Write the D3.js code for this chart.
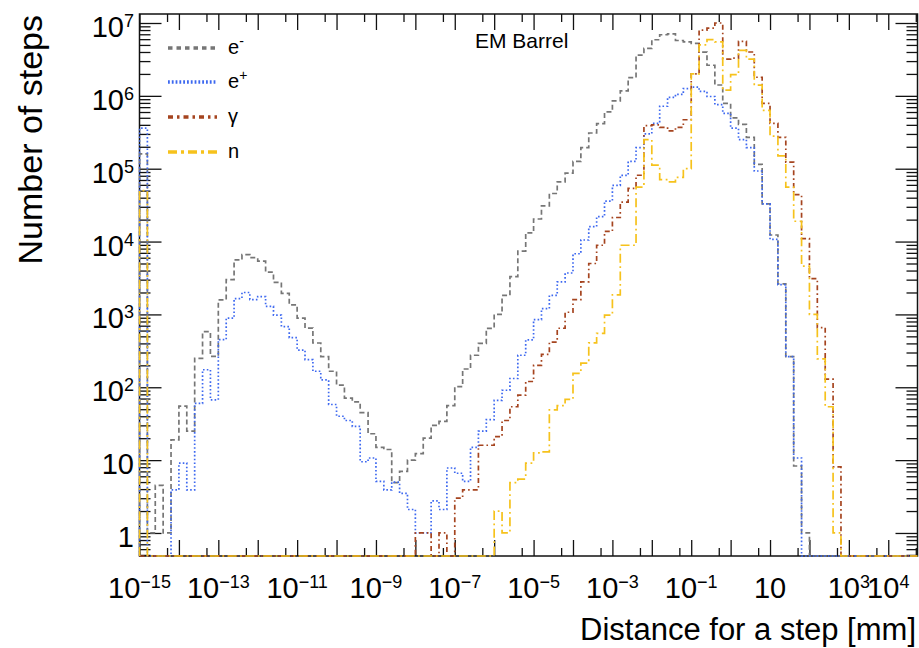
<!DOCTYPE html>
<html>
<head>
<meta charset="utf-8">
<script src="https://cdn.jsdelivr.net/npm/d3@7"></script>
<style>
  body { margin: 0; background: #fff; }
  svg { display: block; font-family: "Liberation Sans", Arial, Helvetica, sans-serif; }
</style>
</head>
<body>
<div id="chart"></div>
<script>
/* CONSTANTS AND GLOBALS */
const width = 919,
  height = 648,
  frame = { left: 139.5, right: 917.5, top: 14, bottom: 556 };

// bins: 0.2 decade wide, starting at 1e-15 mm
const binStartLog = -15,
  binWidthLog = 0.2;

/* DATA (one value per bin) */
const electronCounts = [
  1.6e5, 1, 4.5, 1, 19, 55, 25, 250, 580, 265,
  1580, 3000, 5600, 6600, 6000, 5400, 3800, 2750, 1950, 1350,
  890, 650, 405, 264, 166, 107, 71, 63, 45, 23,
  15, 14, 4.9, 7, 10, 12.3, 20, 30, 34, 56,
  102, 178, 275, 400, 645, 1000, 1820, 3310, 7410, 13200,
  20400, 30900, 45700, 66100, 87100, 126000, 195000, 309000, 417000, 603000,
  851000, 1.17e6, 1.78e6, 3.63e6, 4.47e6, 5.89e6, 6.9e6, 7.1e6, 5.75e6, 5.5e6,
  5.25e6, 3.98e6, 2.63e6, 1.41e6, 7.9e5, 5e5, 4.07e5, 2.7e5, 1.15e5, 3.3e4,
  1.23e4, 2630, 263, 8.3, 1, 0, 0, 0, 0
];

const positronCounts = [
  3.6e5, 0, 0, 0, 3.9, 9.1, 3.9, 60, 174, 67,
  450, 890, 1650, 2000, 1600, 1760, 1290, 980, 680, 480,
  324, 240, 166, 126, 58, 40, 35, 29, 9.5, 10.7,
  5.1, 3.9, 5, 3.5, 2.1, 1, 1, 2.75, 2.1, 7.8,
  6.6, 5.1, 15, 25, 36, 66, 91, 132, 275, 447,
  850, 1200, 1820, 2800, 3700, 6800, 10500, 16000, 22000, 36000,
  59000, 81000, 126000, 195000, 300000, 420000, 720000, 955000, 1.05e6, 1.26e6,
  1.32e6, 1.15e6, 9.8e5, 7.6e5, 5.75e5, 3.6e5, 2.5e5, 1.95e5, 9.3e4, 3.3e4,
  1.07e4, 2570, 263, 10.7, 0, 0, 0, 0, 0
];

const gammaCounts = [
  0, 0, 0, 0, 0, 0, 0, 0, 0, 0,
  0, 0, 0, 0, 0, 0, 0, 0, 0, 0,
  0, 0, 0, 0, 0, 0, 0, 0, 0, 0,
  0, 0, 0, 0, 0, 1, 1, 0, 1, 0,
  3, 3.9, 3.9, 16, 16, 21, 35, 54, 78, 120,
  200, 282, 417, 646, 1070, 1600, 2800, 5000, 8900, 13800,
  21400, 34700, 53700, 81300, 3.9e5, 4e5, 3.7e5, 3.3e5, 3.7e5, 4.7e5,
  2e6, 8e6, 8.5e6, 1e7, 3.2e6, 3.3e6, 5.6e6, 4e6, 1.8e6, 7.9e5,
  4.2e5, 2.7e5, 1.23e5, 4.4e4, 1.1e4, 3100, 660, 129, 8.1
];

const neutronCounts = [
  5e4, 0, 0, 0, 0, 0, 0, 0, 0, 0,
  0, 0, 0, 0, 0, 0, 0, 0, 0, 0,
  0, 0, 0, 0, 0, 0, 0, 0, 0, 0,
  0, 0, 0, 0, 0, 0, 0, 0, 0, 0,
  0, 0, 0, 0, 0, 2, 1, 4.9, 5.5, 9.1,
  12.6, 13, 49, 56, 68, 155, 214, 407, 550, 977,
  1860, 8900, 8900, 56000, 2.5e5, 1.12e5, 7.1e4, 6.6e4, 7.6e4, 1e5,
  2e6, 5e6, 5.9e6, 5.5e6, 1.2e6, 1.95e6, 4.2e6, 3.2e6, 1.4e6, 6.3e5,
  2.8e5, 1.5e5, 5.6e4, 1.9e4, 4600, 1000, 245, 54, 1
];

const seriesNames = ["e", "e", "γ", "n"];
const seriesSups = ["-", "+", "", ""];
const seriesColors = ["#767676", "#3d68f0", "#a5441f", "#f6c21c"];
const seriesDash = ["5,3", "1.6,2.2", "5,3,1.6,3", "9,3.5,1.8,3.5"];
const legendDash = ["4.5,4", "1.8,2", "5,4,2.5,4", "9,4,3,4"];

const xLabelExps = [-15, -13, -11, -9, -7, -5, -3, -1, 1, 3, 4];
const yLabelExps = [0, 1, 2, 3, 4, 5, 6, 7];

/* SCALES */
const yMin = 0.483;
const x = d3.scaleLog()
  .domain([1e-15, Math.pow(10, 4.742)])
  .range([frame.left, frame.right]);
const y = d3.scaleLog()
  .domain([yMin, Math.pow(10, 7.1235)])
  .range([frame.bottom, frame.top]);

const nBins = electronCounts.length;
const edges = d3.range(nBins + 1).map(k => Math.pow(10, binStartLog + binWidthLog * k));

const svg = d3.select("#chart").append("svg")
  .attr("width", width)
  .attr("height", height);

/* AXES (ticks only, frame drawn separately) */
const xMajor = d3.range(-15, 5).map(n => Math.pow(10, n));
const xMinor = d3.range(-15, 5).map(n => 5 * Math.pow(10, n)).filter(v => v <= x.domain()[1]);
const yMajor = d3.range(0, 8).map(n => Math.pow(10, n));
const yMinor = [];
d3.range(-1, 8).forEach(n => d3.range(2, 10).forEach(m => {
  const v = m * Math.pow(10, n);
  if (v >= yMin && v <= y.domain()[1]) yMinor.push(v);
}));

function tickAxis(axisFn, scale, values, size, transform) {
  const g = svg.append("g")
    .attr("transform", transform)
    .call(axisFn(scale).tickValues(values).tickSize(size).tickFormat(""));
  g.select(".domain").remove();
  g.selectAll(".tick line").attr("stroke", "#111").attr("stroke-width", 1.3);
}

tickAxis(d3.axisBottom, x, xMajor, -16, `translate(0,${frame.bottom})`);
tickAxis(d3.axisBottom, x, xMinor, -8, `translate(0,${frame.bottom})`);
tickAxis(d3.axisTop, x, xMajor, -16, `translate(0,${frame.top})`);
tickAxis(d3.axisTop, x, xMinor, -8, `translate(0,${frame.top})`);
tickAxis(d3.axisLeft, y, yMajor, -22, `translate(${frame.left},0)`);
tickAxis(d3.axisLeft, y, yMinor, -11, `translate(${frame.left},0)`);
tickAxis(d3.axisRight, y, yMajor, -22, `translate(${frame.right},0)`);
tickAxis(d3.axisRight, y, yMinor, -11, `translate(${frame.right},0)`);

svg.append("rect")
  .attr("x", frame.left)
  .attr("y", frame.top)
  .attr("width", frame.right - frame.left)
  .attr("height", frame.bottom - frame.top)
  .attr("fill", "none")
  .attr("stroke", "#111")
  .attr("stroke-width", 1.5);

// tick labels
function powerLabel(sel, e) {
  if (e === 0) { sel.text("1"); return; }
  sel.append("tspan").text("10");
  if (e !== 1) {
    sel.append("tspan")
      .attr("font-size", 18)
      .attr("dy", -10)
      .text(e < 0 ? "\u2212" + Math.abs(e) : String(e));
  }
}

svg.append("g").selectAll("text")
  .data(xLabelExps)
  .join("text")
  .attr("x", d => x(Math.pow(10, d)))
  .attr("y", 598)
  .attr("text-anchor", "middle")
  .attr("font-size", 29)
  .each(function(d) { powerLabel(d3.select(this), d); });

svg.append("g").selectAll("text")
  .data(yLabelExps)
  .join("text")
  .attr("x", 134)
  .attr("y", d => y(Math.pow(10, d)) + 14)
  .attr("text-anchor", "end")
  .attr("font-size", 29)
  .each(function(d) { powerLabel(d3.select(this), d); });

// axis titles
svg.append("text")
  .attr("x", 916)
  .attr("y", 640)
  .attr("text-anchor", "end")
  .attr("font-size", 31)
  .text("Distance for a step [mm]");

svg.append("text")
  .attr("transform", "translate(42,15) rotate(-90)")
  .attr("text-anchor", "end")
  .attr("font-size", 34)
  .text("Number of steps");

/* HISTOGRAMS */
svg.append("clipPath").attr("id", "plot-clip")
  .append("rect")
  .attr("x", frame.left - 1)
  .attr("y", frame.top - 1)
  .attr("width", frame.right - frame.left + 2)
  .attr("height", frame.bottom - frame.top + 2);

const stepLine = d3.line()
  .x(d => x(d[0]))
  .y(d => y(d[1]))
  .curve(d3.curveStepAfter);

function stepPoints(counts) {
  const pts = [[edges[0], yMin]];
  counts.forEach((c, k) => pts.push([edges[k], Math.max(c, yMin)]));
  pts.push([edges[counts.length], Math.max(counts[counts.length - 1], yMin)]);
  pts.push([edges[counts.length], yMin]);
  pts.push([x.domain()[1], yMin]);
  return pts;
}

const allCounts = [electronCounts, positronCounts, gammaCounts, neutronCounts];

svg.append("g")
  .attr("clip-path", "url(#plot-clip)")
  .selectAll("path")
  .data(allCounts)
  .join("path")
  .attr("d", d => stepLine(stepPoints(d)))
  .attr("fill", "none")
  .attr("stroke", (d, i) => seriesColors[i])
  .attr("stroke-width", 1.7)
  .attr("stroke-dasharray", (d, i) => seriesDash[i]);

/* LEGEND */
const legendRows = [48, 82, 117, 152];
const legend = svg.append("g");
legend.selectAll("line")
  .data(seriesNames)
  .join("line")
  .attr("x1", 168)
  .attr("x2", 217)
  .attr("y1", (d, i) => legendRows[i])
  .attr("y2", (d, i) => legendRows[i])
  .attr("stroke", (d, i) => seriesColors[i])
  .attr("stroke-width", 3.5)
  .attr("stroke-dasharray", (d, i) => legendDash[i]);

legend.selectAll("text")
  .data(seriesNames)
  .join("text")
  .attr("x", 228)
  .attr("y", (d, i) => legendRows[i] + 6)
  .attr("font-size", 20)
  .each(function(d, i) {
    const t = d3.select(this);
    t.append("tspan").text(d);
    if (seriesSups[i]) {
      t.append("tspan").attr("font-size", 14).attr("dy", -8).text(seriesSups[i]);
    }
  });

svg.append("text")
  .attr("x", 475)
  .attr("y", 48)
  .attr("font-size", 21)
  .text("EM Barrel");
</script>
</body>
</html>
